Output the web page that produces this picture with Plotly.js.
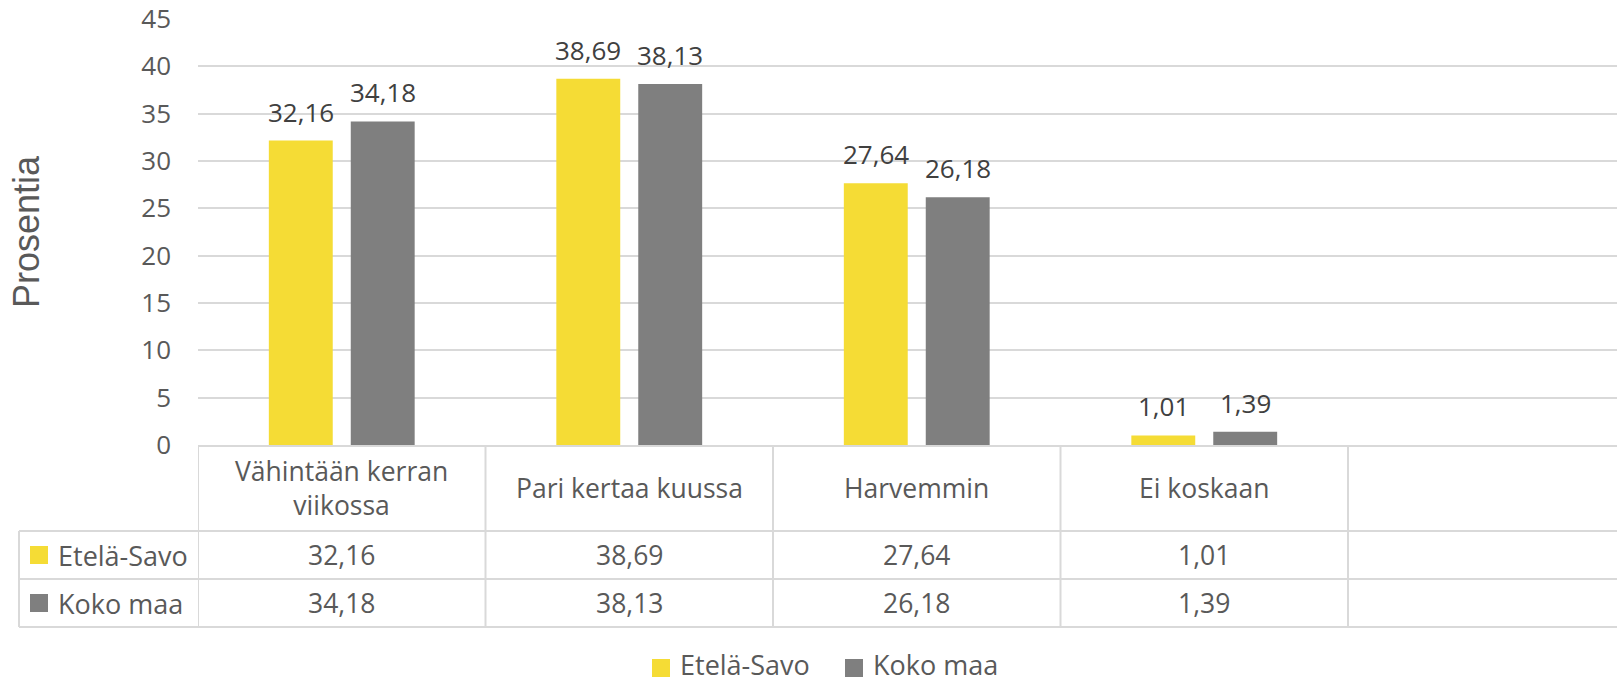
<!DOCTYPE html>
<html>
<head>
<meta charset="utf-8">
<script src="https://cdn.plot.ly/plotly-3.0.1.min.js"></script>
<style>
  html, body { margin: 0; padding: 0; background: #fff; }
  #chart { width: 1617px; height: 683px; }
</style>
</head>
<body>
<div id="chart"></div>
<script>
// Kaavio + Excel-tyylinen datataulukko akselin alla

const categories = ['Vähintään kerran<br>viikossa', 'Pari kertaa kuussa', 'Harvemmin', 'Ei koskaan'];
const seriesNames = ['Etelä-Savo', 'Koko maa'];
const etelaSavo = [32.16, 38.69, 27.64, 1.01];
const kokoMaa = [34.18, 38.13, 26.18, 1.39];
const yTicks = [0, 5, 10, 15, 20, 25, 30, 35, 40, 45];

const colors = ['#F5DC35', '#7F7F7F'];
const font = 'Open Sans, sans-serif';
const gridColor = '#D9D9D9';

// plot area in pixels
const plotL = 198, plotR = 1617, plotT = 19, plotB = 445;
const px = x => (x - plotL) / (plotR - plotL);
const py = y => (plotB - y) / (plotB - plotT);

const fmt = v => v.toFixed(2).replace('.', ',');
const idx = categories.map((_, i) => i);
const series = [etelaSavo, kokoMaa];

const bargap = 0.43;
const bargroupgap = 0.22;
const slot = (1 - bargap) / 2;

const traces = series.map((vals, s) => ({
  type: 'bar',
  name: seriesNames[s],
  x: idx,
  y: vals,
  marker: { color: colors[s] },
  hoverinfo: 'name+y'
}));

const annotations = [];
const shapes = [];
const txt = (size, color) => ({ family: font, size, color });

// data labels above bars
series.forEach((vals, s) => {
  vals.forEach((v, i) => {
    annotations.push({
      x: i + (s - 0.5) * slot, y: v, xref: 'x', yref: 'y',
      text: fmt(v), showarrow: false, yanchor: 'middle', yshift: 29,
      font: txt(26, '#404040')
    });
  });
});

// table: header row with category names + value rows
const rowY = [445, 531, 579, 627];
categories.forEach((c, i) => {
  annotations.push({
    x: i, y: py(488), xref: 'x', yref: 'paper', text: c, showarrow: false,
    yanchor: 'middle', font: txt(26.5, '#595959')
  });
  series.forEach((vals, s) => {
    annotations.push({
      x: i, y: py((rowY[s + 1] + rowY[s + 2]) / 2), xref: 'x', yref: 'paper',
      text: fmt(vals[i]), showarrow: false, yanchor: 'middle',
      font: txt(26.5, '#595959')
    });
  });
});

// key square + name, used for table row headers and the bottom legend
function key(s, x, cy, ty) {
  shapes.push({
    type: 'rect', xref: 'paper', yref: 'paper',
    x0: px(x), x1: px(x + 18), y0: py(cy + 9), y1: py(cy - 9),
    fillcolor: colors[s], line: { width: 0 }
  });
  annotations.push({
    x: px(x + 26), y: py(ty), xref: 'paper', yref: 'paper', text: seriesNames[s], showarrow: false,
    xanchor: 'left', yanchor: 'middle', font: txt(27, '#595959')
  });
}
seriesNames.forEach((n, s) => {
  const cy = (rowY[s + 1] + rowY[s + 2]) / 2;
  key(s, 30, cy, cy);
});
key(0, 652, 668, 664);
key(1, 845, 668, 664);

// table grid lines
const line = { color: gridColor, width: 2 };
rowY.slice(1).forEach(y => {
  shapes.push({ type: 'line', xref: 'paper', yref: 'paper', x0: px(19), x1: 1, y0: py(y), y1: py(y), line });
});
shapes.push({ type: 'line', xref: 'paper', yref: 'paper', x0: px(19), x1: px(19), y0: py(rowY[1]), y1: py(rowY[3]), line });
for (let i = 0; i <= categories.length; i++) {
  shapes.push({ type: 'line', xref: 'x', yref: 'paper', x0: i - 0.5, x1: i - 0.5, y0: 0, y1: py(rowY[3]), line });
}

const layout = {
  width: 1617,
  height: 683,
  margin: { l: plotL, r: 1617 - plotR, t: plotT, b: 683 - plotB, pad: 0, autoexpand: false },
  paper_bgcolor: '#fff',
  plot_bgcolor: '#fff',
  barmode: 'group',
  bargap,
  bargroupgap,
  showlegend: false,
  xaxis: {
    range: [-0.5, -0.5 + (plotR - plotL) / 287.5],
    showticklabels: false, showgrid: false, zeroline: false,
    showline: true, linecolor: gridColor, linewidth: 2, fixedrange: true
  },
  yaxis: {
    range: [0, 45], tickvals: yTicks, ticks: '',
    showgrid: true, gridcolor: gridColor, gridwidth: 2, zeroline: false, showline: false,
    tickfont: txt(26, '#595959'),
    ticklabelstandoff: 26,
    title: { text: 'Prosentia', standoff: 90, font: { family: 'Liberation Sans, Arial, sans-serif', size: 36, color: '#595959' } },
    fixedrange: true
  },
  annotations,
  shapes
};

Plotly.newPlot('chart', traces, layout, { displayModeBar: false, staticPlot: true });
</script>
</body>
</html>
